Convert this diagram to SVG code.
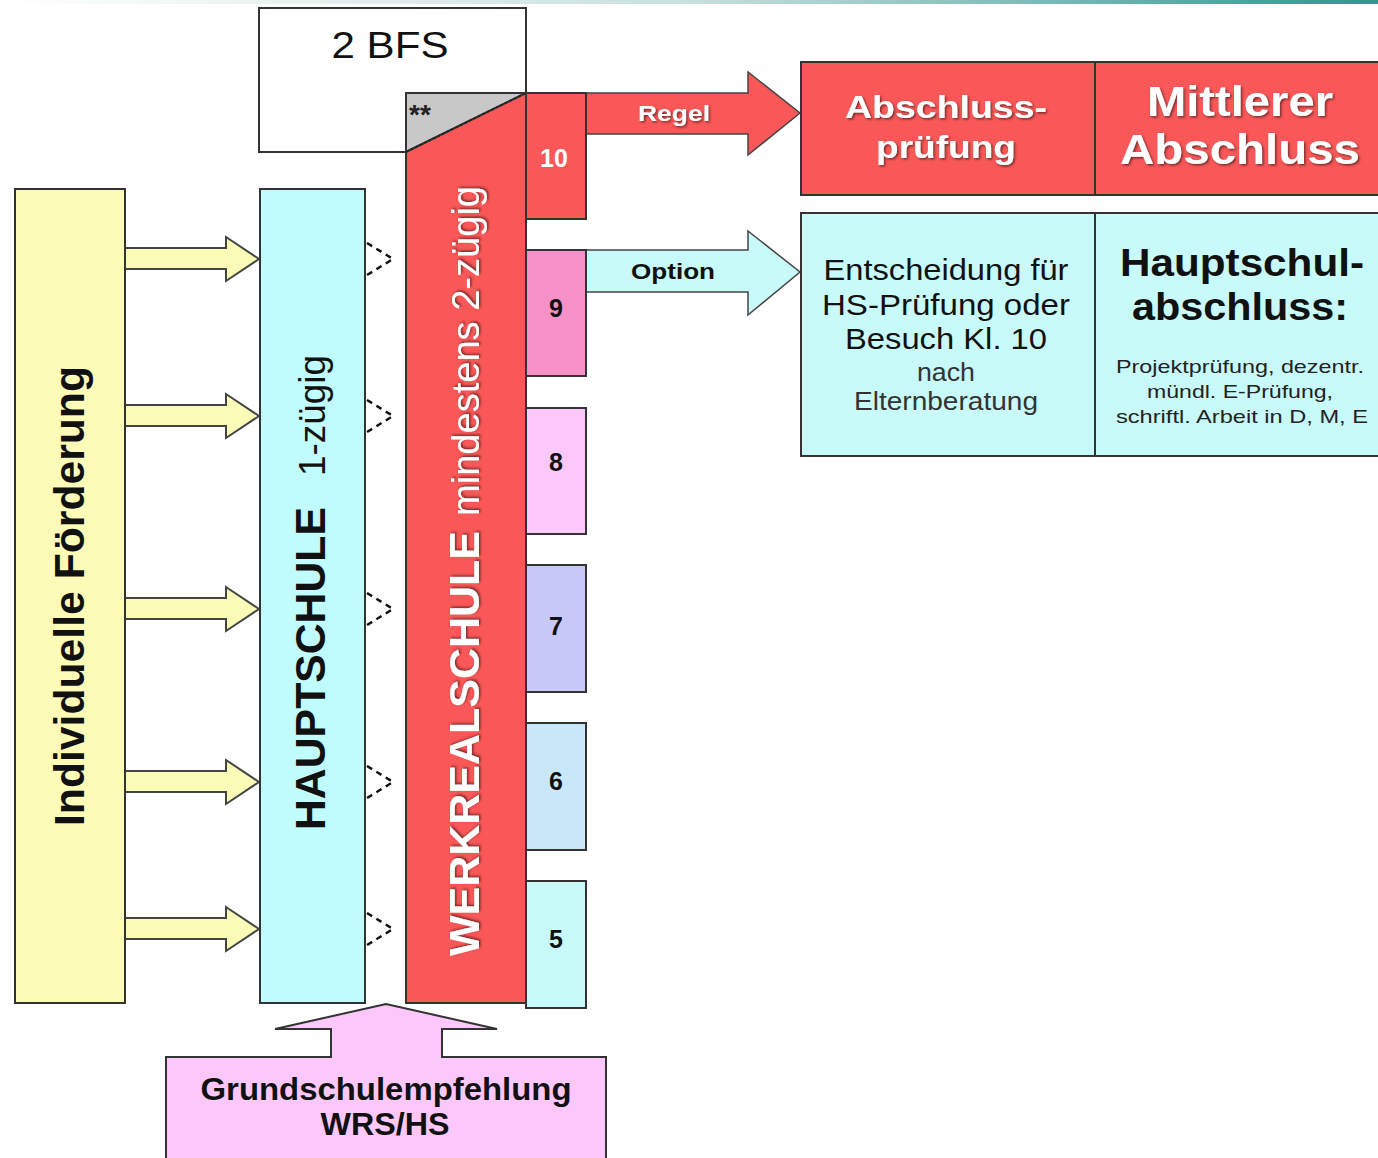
<svg xmlns="http://www.w3.org/2000/svg" width="1378" height="1158" viewBox="0 0 1378 1158">
<defs>
<linearGradient id="topbar" x1="0" y1="0" x2="1" y2="0">
<stop offset="0" stop-color="#ffffff"/>
<stop offset="0.5" stop-color="#c8e0de"/>
<stop offset="1" stop-color="#2f9690"/>
</linearGradient>
<filter id="sh" x="-10%" y="-20%" width="130%" height="150%">
<feDropShadow dx="1.5" dy="1.5" stdDeviation="0.8" flood-color="#5a2020" flood-opacity="0.8"/>
</filter>
</defs>
<style>
.bx{stroke:#333;stroke-width:2}
.red{fill:#fa5858}
.ff{font-family:"Liberation Sans",Arial,sans-serif}
.b{font-weight:bold}
.c{text-anchor:middle}
.num{font-family:"Liberation Sans",Arial,sans-serif;font-weight:bold;font-size:25px;text-anchor:middle;fill:#111}
.yarr{fill:#fbfbb8;stroke:#444;stroke-width:2}
.dash{fill:none;stroke:#111;stroke-width:2.5;stroke-dasharray:6,5}
</style>
<rect width="1378" height="1158" fill="#ffffff"/>
<rect x="0" y="0" width="1378" height="4" fill="url(#topbar)"/>

<g id="connectors">
<g id="yellow-arrows">
<polygon class="yarr" points="125,248 226,248 226,237 259,259 226,281 226,269 125,269"/>
<polygon class="yarr" points="125,405 226,405 226,394 259,416 226,438 226,426 125,426"/>
<polygon class="yarr" points="125,598 226,598 226,587 259,609 226,631 226,619 125,619"/>
<polygon class="yarr" points="125,771 226,771 226,760 259,782 226,804 226,792 125,792"/>
<polygon class="yarr" points="125,918 226,918 226,907 259,929 226,951 226,939 125,939"/>
</g>
<g id="dashed-heads">
<polyline class="dash" points="367,243 393,259 367,275"/>
<polyline class="dash" points="367,400 393,416 367,432"/>
<polyline class="dash" points="367,593 393,609 367,625"/>
<polyline class="dash" points="367,766 393,782 367,798"/>
<polyline class="dash" points="367,913 393,929 367,945"/>
</g>
<g id="regel-arrow">
<polygon points="586,93 748,93 748,72 800,113 748,155 748,134 586,134" fill="#fa5858" stroke="#444" stroke-width="1.5"/>
<text x="674" y="121" class="ff b c" font-size="22" fill="#ffffff" filter="url(#sh)" textLength="72" lengthAdjust="spacingAndGlyphs">Regel</text>
</g>
<g id="option-arrow">
<polygon points="586,250 748,250 748,231 800,272 748,315 748,292 586,292" fill="#c8fafa" stroke="#444" stroke-width="1.5"/>
<text x="673" y="279" class="ff b c" font-size="22" fill="#111" textLength="84" lengthAdjust="spacingAndGlyphs">Option</text>
</g>
<g id="grundschul-arrow">
<polygon points="166,1057 331,1057 331,1029 275,1029 386,1004 497,1029 442,1029 442,1057 606,1057 606,1160 166,1160" fill="#fcc8fc" stroke="#333" stroke-width="2"/>
</g>
</g>

<g id="node-foerderung">
<rect x="15" y="189" width="110" height="814" fill="#fcfcb8" class="bx"/>
<text transform="translate(84,596) rotate(-90)" class="ff b c" font-size="43" fill="#111" textLength="460" lengthAdjust="spacingAndGlyphs">Individuelle Förderung</text>
</g>

<g id="node-hauptschule">
<rect x="260" y="189" width="105" height="814" fill="#c0fcfc" class="bx"/>
<text transform="translate(325,830) rotate(-90)" class="ff b" font-size="43" fill="#111" textLength="323" lengthAdjust="spacingAndGlyphs">HAUPTSCHULE</text>
<text transform="translate(325,476) rotate(-90)" class="ff" font-size="36" fill="#111" textLength="121" lengthAdjust="spacingAndGlyphs">1-zügig</text>
</g>

<g id="node-bfs">
<rect x="259" y="8" width="267" height="144" fill="#ffffff" class="bx"/>
<text x="390" y="58" class="ff c" font-size="37" fill="#111" textLength="117" lengthAdjust="spacingAndGlyphs">2 BFS</text>
</g>

<g id="node-werkrealschule">
<polygon points="406,93 526,93 406,152" fill="#c8c8c8" stroke="#333" stroke-width="2"/>
<polygon points="406,152 526,93 526,1003 406,1003" class="red bx"/>
<line x1="406" y1="152" x2="526" y2="93" stroke="#222" stroke-width="1.5" stroke-dasharray="3,2"/>
<text x="409" y="124" class="ff b" font-size="28" fill="#222">**</text>
<text transform="translate(479,956) rotate(-90)" class="ff b" font-size="43" fill="#ffffff" filter="url(#sh)" textLength="425" lengthAdjust="spacingAndGlyphs">WERKREALSCHULE</text>
<text transform="translate(479,516) rotate(-90)" class="ff" font-size="38" fill="#ffffff" filter="url(#sh)" textLength="330" lengthAdjust="spacingAndGlyphs">mindestens 2-zügig</text>
</g>

<g id="node-klasse10"><rect x="526" y="93" width="60" height="126" class="red bx"/><text x="554" y="167" class="num" style="fill:#fff">10</text></g>
<g id="node-klasse9"><rect x="526" y="250" width="60" height="126" fill="#f590c8" class="bx"/><text x="556" y="317" class="num">9</text></g>
<g id="node-klasse8"><rect x="526" y="408" width="60" height="126" fill="#fcc8fc" class="bx"/><text x="556" y="471" class="num">8</text></g>
<g id="node-klasse7"><rect x="526" y="565" width="60" height="127" fill="#c8c8f8" class="bx"/><text x="556" y="635" class="num">7</text></g>
<g id="node-klasse6"><rect x="526" y="723" width="60" height="127" fill="#c8e8f8" class="bx"/><text x="556" y="790" class="num">6</text></g>
<g id="node-klasse5"><rect x="526" y="881" width="60" height="127" fill="#c8fafa" class="bx"/><text x="556" y="948" class="num">5</text></g>

<g id="node-abschlusspruefung">
<rect x="801" y="62" width="294" height="133" class="red bx"/>
<text class="ff b c" font-size="32" fill="#ffffff" filter="url(#sh)"><tspan x="946" y="118" textLength="202" lengthAdjust="spacingAndGlyphs">Abschluss-</tspan></text>
<text class="ff b c" font-size="32" fill="#ffffff" filter="url(#sh)"><tspan x="946" y="158" textLength="140" lengthAdjust="spacingAndGlyphs">prüfung</tspan></text>
</g>
<g id="node-mittlerer">
<rect x="1095" y="62" width="290" height="133" class="red bx"/>
<text x="1240" y="116" class="ff b c" font-size="42" fill="#ffffff" filter="url(#sh)" textLength="186" lengthAdjust="spacingAndGlyphs">Mittlerer</text>
<text x="1240" y="164" class="ff b c" font-size="42" fill="#ffffff" filter="url(#sh)" textLength="240" lengthAdjust="spacingAndGlyphs">Abschluss</text>
</g>
<g id="node-entscheidung">
<rect x="801" y="213" width="294" height="243" fill="#c8fafa" class="bx"/>
<text x="946" y="280" class="ff c" fill="#111" font-size="29" textLength="245" lengthAdjust="spacingAndGlyphs">Entscheidung für</text>
<text x="946" y="315" class="ff c" fill="#111" font-size="29" textLength="248" lengthAdjust="spacingAndGlyphs">HS-Prüfung oder</text>
<text x="946" y="349" class="ff c" fill="#111" font-size="29" textLength="202" lengthAdjust="spacingAndGlyphs">Besuch Kl. 10</text>
<text x="946" y="381" class="ff c" fill="#333" font-size="25" textLength="58" lengthAdjust="spacingAndGlyphs">nach</text>
<text x="946" y="410" class="ff c" fill="#333" font-size="25" textLength="184" lengthAdjust="spacingAndGlyphs">Elternberatung</text>
</g>
<g id="node-hauptschulabschluss">
<rect x="1095" y="213" width="290" height="243" fill="#c8fafa" class="bx"/>
<text x="1242" y="276" class="ff b c" fill="#111" font-size="38" textLength="244" lengthAdjust="spacingAndGlyphs">Hauptschul-</text>
<text x="1240" y="320" class="ff b c" fill="#111" font-size="38" textLength="216" lengthAdjust="spacingAndGlyphs">abschluss:</text>
<text x="1240" y="373" class="ff c" fill="#222" font-size="19" textLength="248" lengthAdjust="spacingAndGlyphs">Projektprüfung, dezentr.</text>
<text x="1240" y="398" class="ff c" fill="#222" font-size="19" textLength="186" lengthAdjust="spacingAndGlyphs">mündl. E-Prüfung,</text>
<text x="1242" y="423" class="ff c" fill="#222" font-size="19" textLength="252" lengthAdjust="spacingAndGlyphs">schriftl. Arbeit in D, M, E</text>
</g>

<g id="node-grundschulempfehlung">
<text x="386" y="1100" class="ff b c" fill="#111" font-size="31" textLength="371" lengthAdjust="spacingAndGlyphs">Grundschulempfehlung</text>
<text x="385" y="1135" class="ff b c" fill="#111" font-size="31" textLength="129" lengthAdjust="spacingAndGlyphs">WRS/HS</text>
</g>
</svg>
